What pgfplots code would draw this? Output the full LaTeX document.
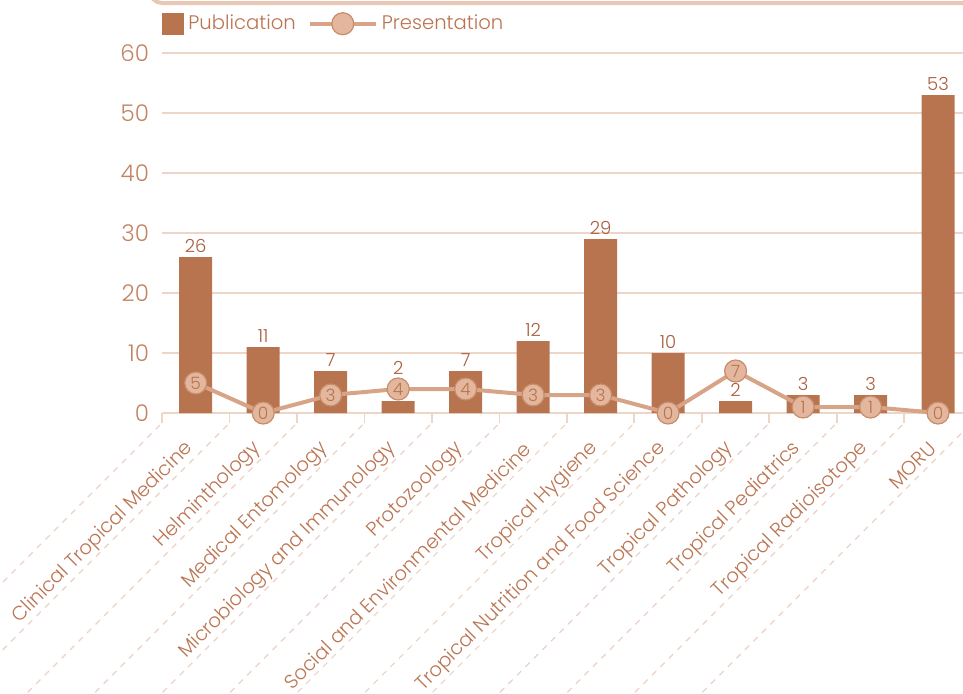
\documentclass[border=0pt]{standalone}
\usepackage{fontspec}
\setmainfont{Poppins}[UprightFont={* Light}]
\usepackage{pgfplots}
\usepackage{pgfplotstable}
\pgfplotsset{compat=1.18}
\definecolor{barcol}{HTML}{B8734F}
\definecolor{barlab}{HTML}{A95E3D}
\definecolor{tickcol}{HTML}{C48463}
\definecolor{labcol}{HTML}{BB7452}
\definecolor{gridcol}{HTML}{EDD5C8}
\definecolor{linecol}{HTML}{D8A487}
\definecolor{mfill}{HTML}{E3B79D}
\definecolor{mdraw}{HTML}{C98C6B}
\definecolor{dashcol}{HTML}{EBD2C4}
\definecolor{boxcol}{HTML}{E9C7B4}
\pgfplotstableread{
x pub pre off
0 26 5 0
1 11 0 0
2 7 3 0
3 2 4 11
4 7 4 0
5 12 3 0
6 29 3 0
7 10 0 0
8 2 7 0
9 3 1 0
10 3 1 0
11 53 0 0
}\data
\begin{document}
\begin{tikzpicture}
\begin{axis}[
  scale only axis, width=400.5pt, height=180pt,
  xmin=-0.5, xmax=11.37, ymin=0, ymax=60,
  clip=false,
  axis line style={draw=none},
  ytick={0,10,...,60},
  ymajorgrids, grid style={gridcol, line width=0.9pt},
  major tick length=0pt,
  xtick={0,...,11},
  xticklabels={Clinical Tropical Medicine, Helminthology, Medical Entomology, Microbiology and Immunology, Protozoology, Social and Environmental Medicine, Tropical Hygiene, Tropical Nutrition and Food Science, Tropical Pathology, Tropical Pediatrics, Tropical Radioisotope, MORU},
  minor xtick={-0.5,0.5,...,11.5},
  minor tick length=5pt, tick align=outside,
  every minor tick/.style={gridcol, line width=0.9pt},
  xtick pos=bottom, ytick pos=left,
  /pgf/number format/assume math mode=true,
  yticklabel style={text=tickcol, font=\fontsize{11.5}{13}\selectfont, xshift=-3pt},
  xticklabel style={rotate=45, anchor=east, text=labcol, font=\fontsize{9.8}{11}\selectfont, yshift=-9.5pt, xshift=-10pt},
  legend style={at={(0,1)}, anchor=south west, xshift=-3pt, yshift=6pt, draw=none, fill=none, font=\fontsize{9.8}{12}\selectfont, text=labcol, /tikz/every even column/.append style={column sep=4pt}},
  legend columns=-1,
]
\pgfplotsinvokeforeach{-0.5,0.5,1.5,2.5,3.5,4.5,5.5,6.5,7.5,8.5,9.5,10.5,11.5}{
  \draw[dashcol, dashed, dash pattern=on 3pt off 3pt, line width=0.6pt] (axis cs:#1,0) ++(-1pt,-6pt) -- ++(-340pt,-340pt);
}
\addplot[ybar, bar width=16.5pt, fill=barcol, draw=none,
  legend image code/.code={\fill[barcol] (0pt,-5.5pt) rectangle (11pt,5.5pt);},
  visualization depends on={\thisrow{off}\as\off},
  nodes near coords,
  every node near coord/.append style={text=barlab, font=\fontsize{9}{10}\selectfont, inner sep=2pt, yshift=\off}]
  table[x=x, y=pub]{\data};
\addlegendentry{Publication}
\addplot[linecol, line width=2pt, mark=*, mark size=5.5pt,
  mark options={fill=mfill, draw=mdraw, line width=0.6pt},
  legend image code/.code={\draw[linecol, line width=2pt] (0pt,0pt) -- (33pt,0pt); \filldraw[fill=mfill, draw=mdraw, line width=0.6pt] (16.5pt,0pt) circle (5.5pt);},
  nodes near coords,
  every node near coord/.append style={anchor=center, text=barcol, font=\fontsize{8.5}{10}\selectfont}]
  table[x=x, y=pre]{\data};
\addlegendentry{Presentation}
\end{axis}
\draw[boxcol, line width=2pt] (current axis.north west) ++(-6pt,36pt) [rounded corners=6pt] -- ++(0,-11pt) -- ++(420pt,0);
\pgfresetboundingbox
\path[use as bounding box] (current axis.south west) ++(-81pt,-140.5pt) rectangle ++(481.5pt,347pt);
\end{tikzpicture}
\end{document}
